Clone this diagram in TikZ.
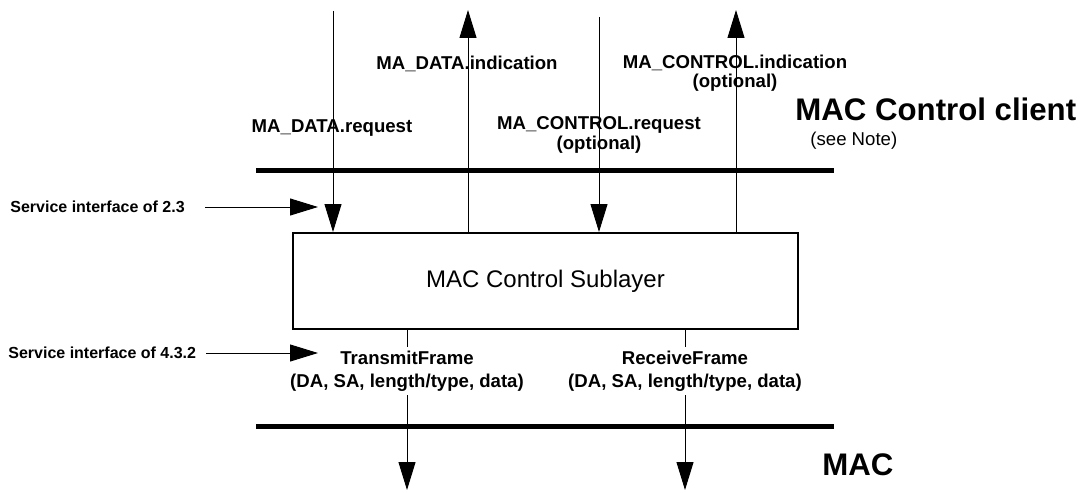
\documentclass[tikz,border=0pt]{standalone}
\usepackage{fontspec}
\setmainfont{Liberation Sans}
\usetikzlibrary{arrows.meta}

\begin{document}
\begin{tikzpicture}[
    x=0.5pt, y=-0.5pt,
    >={Triangle[length=14pt, width=8.5pt]},
    primlabel/.style={font=\fontsize{9.3}{9.8}\selectfont\bfseries, align=center, inner sep=0pt},
    framelabel/.style={font=\fontsize{9.3}{11.5}\selectfont\bfseries, align=center, inner sep=2pt, fill=white},
    sidelabel/.style={font=\fontsize{8}{9.6}\selectfont\bfseries, inner sep=0pt, anchor=west},
    layerlabel/.style={font=\fontsize{15.6}{18}\selectfont\bfseries, inner sep=0pt, anchor=west},
    sublayerbox/.style={draw, line width=1pt, minimum width=252.5pt, minimum height=48pt, inner sep=0pt, font=\fontsize{12}{14}\selectfont},
    signal/.style={->, line width=0.5pt},
    layerbar/.style={line width=2.5pt},
]
\useasboundingbox (0,0) rectangle (1085,492);

% === MAC Control sublayer ===
\node[sublayerbox] (sublayer) at (545.5,281) {MAC Control Sublayer};

% === Layer boundaries ===
\coordinate (clientL) at (256,170);
\coordinate (clientR) at (834,170);
\coordinate (macL) at (256,426);
\coordinate (macR) at (834,426);
\draw[layerbar] (clientL) -- (clientR);
\draw[layerbar] (macL) -- (macR);

% === Client side primitives ===
\coordinate (dreqtop) at (333,11);
\coordinate (dindtop) at (468,10);
\coordinate (creqtop) at (599,17);
\coordinate (cindtop) at (736,10);
\draw[signal] (dreqtop) -- (dreqtop |- sublayer.north);
\draw[signal] (dindtop |- sublayer.north) -- (dindtop);
\draw[signal] (creqtop) -- (creqtop |- sublayer.north);
\draw[signal] (cindtop |- sublayer.north) -- (cindtop);

\node[primlabel] (dreq) at (332,128) {MA\_DATA.request};
\node[primlabel] (dind) at (467,64) {MA\_DATA.indication};
\node[primlabel] (creq) at (599,135) {MA\_CONTROL.request\\(optional)};
\node[primlabel] (cind) at (735,73) {MA\_CONTROL.indication\\(optional)};

\node[layerlabel] (client) at (795,109) {MAC Control client};
\node[font=\fontsize{9.3}{11}\selectfont, inner sep=0pt, anchor=west] (note) at (810,141) {(see Note)};

% === MAC side primitives ===
\coordinate (txend) at (407,490);
\coordinate (rxend) at (685,490);
\draw[signal] (sublayer.south -| txend) -- (txend);
\draw[signal] (sublayer.south -| rxend) -- (rxend);

\node[framelabel] (tx) at (407,371) {TransmitFrame\\(DA, SA, length/type, data)};
\node[framelabel] (rx) at (685,371) {ReceiveFrame\\(DA, SA, length/type, data)};

\node[layerlabel] (mac) at (822,465) {MAC};

% === Service interface pointers ===
\node[sidelabel] (svc1) at (10,207) {Service interface of 2.3};
\node[sidelabel] (svc2) at (8,353) {Service interface of 4.3.2};
\coordinate (svc1tip) at (318,207);
\coordinate (svc2tip) at (318,353);
\draw[signal, shorten <=10pt] (svc1.east) -- (svc1tip);
\draw[signal, shorten <=5pt] (svc2.east) -- (svc2tip);

\end{tikzpicture}
\end{document}
